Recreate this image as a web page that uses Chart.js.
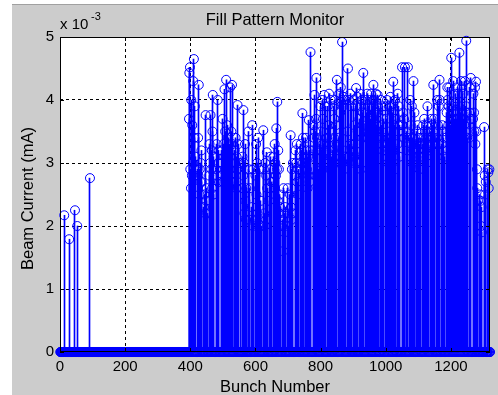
<!DOCTYPE html>
<html><head><meta charset="utf-8">
<script src="https://cdn.jsdelivr.net/npm/chart.js@4.4.0/dist/chart.umd.min.js"></script>
<style>html,body{margin:0;padding:0;background:#fff;overflow:hidden}#wrap{width:498px;height:395px;position:relative}canvas{display:block}</style>
</head><body><div id="wrap"><canvas id="c" width="498" height="395"></canvas></div>
<script>
const chartTitle = "Fill Pattern Monitor";
const xAxisLabel = "Bunch Number";
const yAxisLabel = "Beam Current (mA)";
const yScaleExponent = "-3";
const totalBunches = 1320;
const xTickValues = [0, 200, 400, 600, 800, 1000, 1200];
const yTickValues = [0, 1, 2, 3, 4, 5];

// isolated filled bunches (current in units of 1e-3 mA)
const isolatedBunches = [13, 28, 46, 53, 92];
const isolatedCurrents = [2.17, 1.79, 2.25, 2.0, 2.76];

// bunch trains: first bucket number of each train, and its consecutive bucket currents (1e-3 mA, 0 = empty bucket)
const trainStarts = [396,422,442,458,479,495,535,553,559,578,589,599,617,624,642,654,682,697,706,722,737,754,777,798,820,838,856,882,900,918,937,984,998,1036,1050,1065,1074,1094,1114,1136,1157,1172,1186,1257,1268,1289,1302,1313];
const trainCurrents = [
[3.7,4.43,0,4.52,2.9,0,2.6,4.0,0,2.8,3.6,0,3.0,4.3,0,4.65,3.4,0,3.9,3.1,0],
[2.9,0,3.4,2.8,4.24,0,2.5,2.9,0,2.7,3.0,0,3.2,2.7,0],
[2.3,0,2.5,0,2.2,3.76,0,2.4,0,2.6,2.2],
[2.8,3.3,0,3.0,3.76,0,2.9,0,3.2,2.6,3.5,4.08,0,2.5,3.1,0],
[2.9,0,3.3,2.8,0,4.0,3.0,0,3.2,2.7,0],
[2.8,3.2,0,3.0,3.7,0,2.7,3.3,0,3.1,4.17,0,3.5,2.7,0,4.32,3.2,0,3.6,3.0,0,3.4,2.9,0,2.6,3.3,0,4.2,2.9,0,2.7,3.5,0,4.24,3.3],
[2.7,3.2,0,3.0,3.4,0,2.6,3.1,0,2.9,3.92,0,3.3],
[3.0],
[2.6,3.1,0,2.8,3.84,0,3.0,2.2,0,3.3,2.4,0,2.1,2.6],
[3.5,0,2.9,2.1,0,2.6],
[2.3,3.6,0,2.0,2.9],
[2.1,2.8,0,3.3,2.5,0,3.0,2.2,0,3.4,2.0,0,2.9],
[2.4,2.0],
[3.52,0,2.9,2.2,0,2.0,3.0,0,2.1,2.8,0,3.17,2.6],
[2.4,2.9,0,2.6,3.1,0,2.7],
[2.7,3.1,0,2.9,0,3.3,2.6,3.0,0,2.8,3.55,0,2.9,3.97,0,2.4,3.2,0,2.9,2.2,0,2.5,2.3],
[2.0,0,2.1,1.6,2.6,0,2.2,1.9,0,2.3],
[2.2,0,2.6,2.0],
[2.5,0,3.44,2.3,0,2.1,2.9,0,2.2,3.0,0],
[2.8,3.2,0,3.0,0,3.3,2.7,0,2.5,2.9],
[3.0,0,3.3,2.9,0,3.2,0,3.79,3.0,3.4,0,3.1],
[3.0,3.4,0,3.2,2.9,0,2.6,3.1,0,2.8,3.68,0,2.7,3.2,0,4.76,3.1,0],
[3.2,3.6,0,3.4,4.08,0,3.5,2.8,0,3.7,4.35,0,3.4,3.2,0,2.9],
[3.3,3.9,0,3.5,3.2,0,2.9,4.0,0,3.7,3.3,0,3.0,4.08,0,3.2,3.9],
[3.4,0,3.9,3.3,0,3.6,4.1,0,3.5,2.9,0,4.0,3.1],
[3.2,3.9,0,3.4,3.7,0,4.0,3.3,0,3.6,3.2,0,4.32],
[3.4,4.1,0,3.0,3.8,0,4.2,3.0,0,4.0,4.92,0,3.2,3.9,0,4.05,2.9,0,3.1,4.0,0],
[3.5,0,4.5,3.1,0,4.0,3.1,0,3.3,4.1,0,3.0,3.9],
[3.3,4.0,0,3.1,3.6,0,3.2,3.9,0,4.19,3.0,0,4.05],
[3.0,3.7,0,4.1,3.5,0,2.9,3.9,0,4.0,3.4,0,3.8,4.43],
[3.5,4.0,0,3.8,3.6,0,4.1,3.5,0,3.4,3.9,0,3.6,4.0,0,3.3,3.7,0,4.1,3.5,0,3.7,3.9,0,4.0,4.24,0,3.7,4.0,0,3.8,3.5,0,4.1,3.6,0,3.5,3.8,4.08,0,3.9,3.5],
[3.4,4.0,0,3.6,3.3,0,3.9,3.2,3.7],
[3.2,3.9,0,3.4,3.7,0,4.0,3.3,0,3.0,3.4,0,3.9,3.2,0,3.5,4.05,0,3.1,3.4,0,3.9,3.2,0,3.8,4.29,0,3.2,3.6,0,2.9,4.0,3.7],
[3.3,4.1,0,3.5,3.9,0,3.1,3.6,0],
[4.52,3.6,0,3.8,3.5,0,3.7,3.4,0,4.52],
[3.5,0,3.2,4.52],
[3.4,4.0,0,3.6,3.3,0,3.9,3.0,0,3.4,3.2,4.3,0,3.3,3.8],
[3.1,3.5,0,3.3,3.6,0,3.4,3.2,0,2.9,3.3,0,3.1,3.4,0],
[3.3,3.6,0,3.4,3.7,0,3.5,3.2,0,3.4,3.6,0,3.0,3.5,3.9,0,3.4],
[3.2,3.5,0,3.4,3.7,0,3.6,3.3,0,3.4,4.24,0,3.5,3.7,0,3.3],
[3.4,4.0,0,3.6,3.3,0,3.9,0,4.32,4.0],
[3.3,3.6,0,3.5,3.2,0,3.4,3.1,0],
[3.5,3.8,0,4.2,4.0,0,3.6,3.9,0,4.2,3.5,0,3.4,3.6,0,4.67,3.7,0,3.9,3.3,0,4.3,3.4,0,3.7,3.5,0,4.1,3.3,0,3.7,3.4,0,4.2,3.8,0,3.7,4.1,0,3.9,4.75,0,3.8,3.5,0,4.3,3.4,0,4.2,3.8,0,4.1,3.7,0,3.4,3.6,0,4.3,3.5,0,3.9,4.94,0,3.8,3.4,0],
[3.8,4.2,0,3.7,4.35,0],
[3.7,4.1,0,3.8,3.5,0,4.2,3.3,0,4.29,3.5,0,2.9,2.6,0,2.4],
[2.5,0,2.4,2.0,0,2.3,1.9,0],
[3.57,0,2.8,2.5,0,2.7],
[2.9,0,2.85,2.6,0,2.9]
];

// ---- build the per-bucket table (buckets not listed are empty) ----
const bunchCurrent = new Array(totalBunches + 1).fill(0);
isolatedBunches.forEach((b, i) => { bunchCurrent[b] = isolatedCurrents[i]; });
trainStarts.forEach((s, t) => { trainCurrents[t].forEach((v, k) => { bunchCurrent[s + k] = v; }); });
const markerData = [];
const stemData = [];
for (let b = 1; b <= totalBunches; b++) {
  markerData.push({x: b, y: bunchCurrent[b]});
  if (bunchCurrent[b] > 0) stemData.push({x: b, y: bunchCurrent[b]});
}

const FONT = "'Liberation Sans', Arial, Helvetica, sans-serif";
const BLUE = '#0000ff';

// snap 1px stems to whole device pixels (like a screen stem plot)
const BarEl = Chart.BarElement;
const origBarDraw = BarEl.prototype.draw;
BarEl.prototype.draw = function (ctx) {
  const x0 = this.x;
  this.x = Math.floor(x0) + 0.5;
  origBarDraw.call(this, ctx);
  this.x = x0;
};

const decor = {
  id: 'decor',
  beforeDraw(chart) {
    const ctx = chart.ctx, a = chart.chartArea;
    ctx.save();
    ctx.fillStyle = '#ffffff';
    ctx.fillRect(0, 0, chart.width, chart.height);
    ctx.fillStyle = '#cccccc';
    ctx.fillRect(12, 5, chart.width - 12, chart.height - 5);
    ctx.fillStyle = '#a0a0a0';
    ctx.fillRect(12, 4, chart.width - 12, 1);
    ctx.fillStyle = '#ffffff';
    ctx.fillRect(a.left, a.top, a.right - a.left, a.bottom - a.top);
    ctx.restore();
  },
  afterDatasetsDraw(chart) {
    const ctx = chart.ctx, a = chart.chartArea;
    const xs = chart.scales.x, ys = chart.scales.y;
    ctx.save();
    ctx.strokeStyle = '#000';
    ctx.lineWidth = 1;
    ctx.strokeRect(Math.round(a.left) + 0.5, Math.round(a.top) + 0.5, Math.round(a.right - a.left) - 1, Math.round(a.bottom - a.top) - 1);
    ctx.beginPath();
    const tl = 4;
    xTickValues.forEach(v => {
      const px = Math.round(xs.getPixelForValue(v)) + 0.5;
      ctx.moveTo(px, a.bottom); ctx.lineTo(px, a.bottom - tl);
      ctx.moveTo(px, a.top); ctx.lineTo(px, a.top + tl);
    });
    yTickValues.forEach(v => {
      const py = Math.round(ys.getPixelForValue(v)) + 0.5;
      ctx.moveTo(a.left, py); ctx.lineTo(a.left + tl, py);
      ctx.moveTo(a.right, py); ctx.lineTo(a.right - tl, py);
    });
    ctx.stroke();
    // baseline of stems
    ctx.beginPath();
    const by = Math.round(ys.getPixelForValue(0)) - 0.5;
    ctx.moveTo(a.left, by); ctx.lineTo(a.right, by);
    ctx.stroke();

    ctx.fillStyle = '#000';
    ctx.font = '16.5px ' + FONT;
    ctx.textAlign = 'center';
    ctx.textBaseline = 'alphabetic';
    ctx.fillText(chartTitle, (a.left + a.right) / 2, 25);
    ctx.fillText(xAxisLabel, (a.left + a.right) / 2, 392);
    ctx.save();
    ctx.translate(33, (a.top + a.bottom) / 2 + 4);
    ctx.rotate(-Math.PI / 2);
    ctx.textAlign = 'center';
    ctx.fillText(yAxisLabel, 0, 0);
    ctx.restore();
    ctx.textAlign = 'left';
    ctx.font = '15px ' + FONT;
    ctx.fillText('x 10', 60, 29);
    ctx.font = '11px ' + FONT;
    ctx.fillText(yScaleExponent, 91, 20);
    ctx.restore();
  }
};

new Chart(document.getElementById('c'), {
  type: 'bar',
  data: {
    datasets: [
      {
        type: 'scatter',
        label: 'markers',
        data: markerData,
        showLine: false,
        pointStyle: 'circle',
        pointRadius: 4.5,
        pointBorderWidth: 1,
        borderColor: BLUE,
        backgroundColor: 'rgba(0,0,0,0)',
        pointBackgroundColor: 'rgba(0,0,0,0)',
        clip: false,
        order: 1
      },
      {
        type: 'bar',
        label: 'stems',
        data: stemData,
        backgroundColor: BLUE,
        borderWidth: 0,
        barThickness: 1,
        grouped: false,
        order: 2
      }
    ]
  },
  options: {
    responsive: false,
    animation: false,
    events: [],
    layout: { padding: { left: 0, top: 37, right: 8, bottom: 0 } },
    plugins: { legend: { display: false }, title: { display: false }, tooltip: { enabled: false } },
    scales: {
      x: {
        type: 'linear',
        offset: false,
        min: 0, max: totalBunches,
        afterBuildTicks: s => { s.ticks = xTickValues.map(v => ({ value: v })); },
        afterFit: s => { s.height = 43; },
        grid: { color: '#000', lineWidth: 1, drawTicks: false, offset: false },
        border: { display: false, dash: [3, 3] },
        ticks: { font: { family: FONT, size: 15 }, color: '#000', padding: 6, maxRotation: 0, autoSkip: false, callback: v => String(v) }
      },
      y: {
        type: 'linear',
        min: 0, max: 5,
        afterBuildTicks: s => { s.ticks = yTickValues.map(v => ({ value: v })); },
        afterFit: s => { s.width = 60; },
        grid: { color: '#000', lineWidth: 1, drawTicks: false },
        border: { display: false, dash: [3, 3] },
        ticks: { font: { family: FONT, size: 15 }, color: '#000', padding: 6, callback: v => String(v) }
      }
    }
  },
  plugins: [decor]
});
</script>
</body></html>
